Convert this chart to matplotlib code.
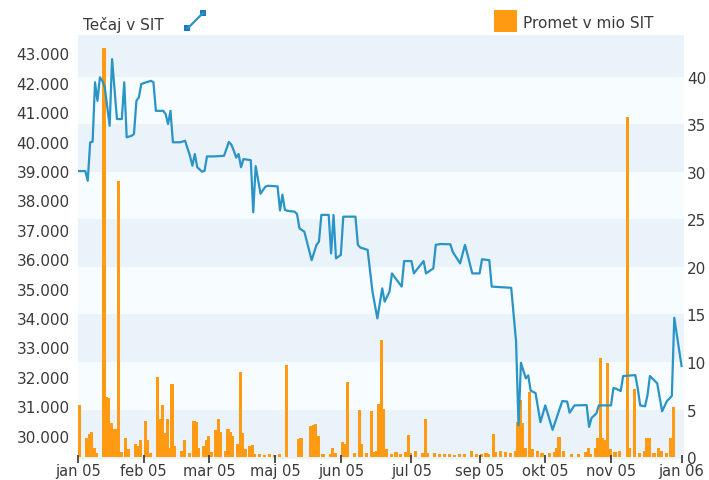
from __future__ import annotations

import matplotlib

matplotlib.use("Agg")
import matplotlib.pyplot as plt
from matplotlib.lines import Line2D
from matplotlib.patches import Rectangle
from matplotlib.ticker import FuncFormatter


# trading-day index -> closing price (SIT)
price_day = [
    0, 3, 4, 5, 6, 7, 8, 9, 10, 11, 13, 14, 16, 18, 19, 20, 22, 23, 24, 25,
    26, 28, 30, 31, 32, 35, 36, 37, 38, 39, 42, 44, 46, 47, 48, 49, 51, 52, 53, 56,
    60, 62, 63, 64, 65, 66, 67, 68, 71, 72, 73, 74, 75, 77, 78, 82, 83, 84, 85, 86,
    89, 90, 91, 93, 96, 98, 99, 100, 103, 104, 105, 106, 108, 109, 114, 115, 116, 119, 121, 123,
    125, 126, 128, 129, 133, 134, 137, 138, 142, 143, 146, 147, 149, 153, 154, 157, 159, 160, 162, 165,
    166, 169, 170, 178, 180, 181, 182, 184, 185, 186, 188, 190, 192, 195, 198, 199, 201, 202, 204, 209,
    210, 211, 213, 214, 219, 220, 221, 223, 224, 229, 230, 231, 233, 234, 235, 238, 240, 242, 244, 245,
    248,
]
price_val = [
    39000, 39000, 38670, 39980, 40000, 42020, 41390, 42190, 42070, 41850, 40540, 42810, 40770, 40770, 42020, 40150, 40200, 40260, 41390, 41510,
    41960, 42020, 42070, 42020, 41050, 41050, 40940, 40600, 41050, 39980, 39980, 40030, 39520, 39180, 39580, 39130, 38980, 39010, 39500, 39500,
    39520, 39990, 39900, 39700, 39460, 39580, 39130, 39410, 39370, 37600, 39170, 38700, 38230, 38470, 38500, 38480, 37660, 38200, 37680, 37650,
    37620, 37540, 37050, 36940, 35970, 36490, 36600, 37510, 37510, 36200, 37510, 36030, 36150, 37450, 37450, 36490, 36400, 36320, 34900, 33990,
    35010, 34560, 34900, 35520, 35070, 35940, 35940, 35520, 35940, 35520, 35690, 36490, 36520, 36510, 36250, 35860, 36490, 36180, 35520, 35520,
    36000, 35970, 35070, 35030, 33200, 30350, 32480, 31950, 32050, 31530, 31450, 30460, 31030, 30200, 30930, 31180, 31160, 30780, 31030, 31040,
    30300, 30600, 30760, 31030, 31030, 31620, 31600, 31520, 32030, 32060, 31600, 31030, 31000, 31380, 32030, 31780, 30830, 31180, 31350, 34010,
    32370,
]

# trading-day index -> turnover (mio SIT)
vol_day = [
    0, 3, 4, 5, 6, 7, 10, 11, 12, 13, 14, 15, 16, 17, 19, 20, 23, 24, 25, 27,
    28, 29, 32, 33, 34, 35, 36, 37, 38, 39, 42, 43, 45, 47, 48, 49, 51, 52, 53, 54,
    56, 57, 58, 60, 61, 62, 63, 65, 66, 67, 68, 70, 71, 72, 74, 76, 78, 80, 82, 85,
    90, 91, 95, 96, 97, 98, 100, 103, 104, 105, 108, 109, 110, 113, 115, 116, 118, 120, 121, 122,
    123, 124, 125, 126, 128, 130, 132, 134, 135, 136, 138, 141, 142, 143, 146, 148, 150, 152, 154, 156,
    158, 161, 163, 165, 167, 168, 170, 171, 173, 175, 177, 179, 180, 181, 182, 183, 185, 186, 188, 190,
    193, 195, 196, 197, 199, 202, 205, 208, 209, 210, 212, 213, 214, 215, 216, 217, 218, 220, 222, 225,
    226, 228, 230, 232, 233, 234, 236, 238, 239, 241, 243, 244,
]
vol_val = [
    5.5, 2.0, 2.4, 2.6, 1.0, 0.4, 43.0, 6.3, 6.2, 3.6, 3.0, 3.0, 29.0, 0.5, 2.0, 0.8, 1.4, 1.2, 1.8, 3.8,
    1.8, 0.4, 8.4, 4.0, 5.5, 2.5, 4.0, 1.0, 7.7, 1.2, 0.6, 1.8, 0.4, 3.8, 3.7, 1.0, 1.2, 1.8, 2.2, 0.5,
    2.8, 4.0, 2.6, 0.6, 3.0, 2.6, 2.2, 1.4, 9.0, 2.5, 0.8, 1.2, 1.3, 0.3, 0.3, 0.2, 0.3, 0.2, 0.3, 9.7,
    1.9, 2.0, 3.3, 3.4, 3.5, 2.2, 0.3, 0.3, 1.0, 0.4, 1.6, 1.4, 7.9, 0.4, 5.0, 1.4, 0.4, 4.9, 0.5, 0.6,
    5.6, 12.3, 5.1, 0.8, 0.3, 0.5, 0.3, 0.5, 2.3, 0.4, 0.6, 0.4, 4.0, 0.4, 0.4, 0.3, 0.3, 0.3, 0.2, 0.3,
    0.3, 0.6, 0.3, 0.3, 0.4, 0.3, 2.4, 0.5, 0.6, 0.5, 0.4, 0.6, 3.7, 6.0, 3.6, 1.0, 6.9, 0.8, 0.6, 0.4,
    0.4, 0.5, 1.0, 2.1, 0.6, 0.3, 0.3, 0.5, 1.0, 0.3, 1.0, 2.0, 10.4, 2.0, 1.8, 9.9, 0.9, 0.5, 0.6, 35.8,
    1.0, 7.2, 0.4, 0.6, 2.0, 2.0, 0.4, 1.0, 0.6, 0.4, 2.0, 5.3,
]

tick_days = [0, 27, 54, 81, 108, 137, 165, 192, 219, 248]
tick_labels = ["jan 05", "feb 05", "mar 05", "maj 05", "jun 05", "jul 05", "sep 05", "okt 05", "nov 05", "jan 06"]
price_ticks = list(range(30000, 43001, 1000))
vol_ticks = [0, 5, 10, 15, 20, 25, 30, 35, 40]

LINE_COLOR = "#2994c6"
BAR_COLOR = "#ff9a12"
BAND_DARK = "#eaf2fa"
BAND_LIGHT = "#f6fcff"
TEXT_COLOR = "#3a3a3a"


def _thousands(v, _pos):
    return f"{int(v):,}".replace(",", ".")


def main() -> None:
    plt.rcParams["font.family"] = ["DejaVu Sans"]
    fig = plt.figure(figsize=(7.09, 4.81), dpi=100)
    fig.patch.set_facecolor("white")

    ax = fig.add_axes([78 / 709, 21 / 481, 606 / 709, 424 / 481])
    ax2 = ax.twinx()

    # volume axis (right) carries the bands and bars, price line sits above
    top = 44.4
    ax2.set_ylim(-0.2, top)
    for i, lo in enumerate(range(0, 45, 5)):
        hi = min(lo + 5, top)
        ax2.axhspan(lo if lo else -0.2, hi, color=BAND_DARK if i % 2 == 0 else BAND_LIGHT, lw=0, zorder=0)
    ax2.bar(vol_day, vol_val, width=1.3, align="edge", color=BAR_COLOR, lw=0, zorder=2)
    ax2.set_yticks(vol_ticks)
    ax2.tick_params(axis="y", length=0, pad=2, labelsize=11, labelcolor=TEXT_COLOR)

    ax.set_zorder(ax2.get_zorder() + 1)
    ax.patch.set_visible(False)
    ax.plot(price_day, price_val, color=LINE_COLOR, lw=1.6, solid_joinstyle="round", zorder=3)
    ax.set_ylim(29207, 43629)
    ax.set_yticks(price_ticks)
    ax.yaxis.set_major_formatter(FuncFormatter(_thousands))
    ax.tick_params(axis="y", length=0, pad=6, labelsize=11, labelcolor=TEXT_COLOR)

    ax.set_xlim(0, 249)
    ax.set_xticks(tick_days)
    ax.set_xticklabels(tick_labels)
    ax.tick_params(axis="x", direction="inout", length=6, width=1.2, color="#333333",
                   pad=0, labelsize=10.5, labelcolor=TEXT_COLOR)

    for a in (ax, ax2):
        for s in a.spines.values():
            s.set_visible(False)

    # legend row above the plot
    fig.text(83 / 709, 1 - 25 / 481, "Tečaj v SIT", fontsize=11, color=TEXT_COLOR, ha="left", va="center")
    fig.add_artist(Line2D([188 / 709, 203 / 709], [1 - 29 / 481, 1 - 14 / 481], color=LINE_COLOR, lw=1.6))
    fig.add_artist(Rectangle((184 / 709, 1 - 32 / 481), 6 / 709, 6 / 481, color="#1a7cbf", lw=0))
    fig.add_artist(Rectangle((200 / 709, 1 - 17 / 481), 6 / 709, 6 / 481, color="#1a7cbf", lw=0))
    fig.add_artist(Rectangle((494 / 709, 1 - 33 / 481), 23 / 709, 22 / 481, color=BAR_COLOR, lw=0))
    fig.text(523 / 709, 1 - 24 / 481, "Promet v mio SIT", fontsize=11, color=TEXT_COLOR, ha="left", va="center")

    fig.savefig("out.png", dpi=100)
    plt.close(fig)


if __name__ == "__main__":
    main()
